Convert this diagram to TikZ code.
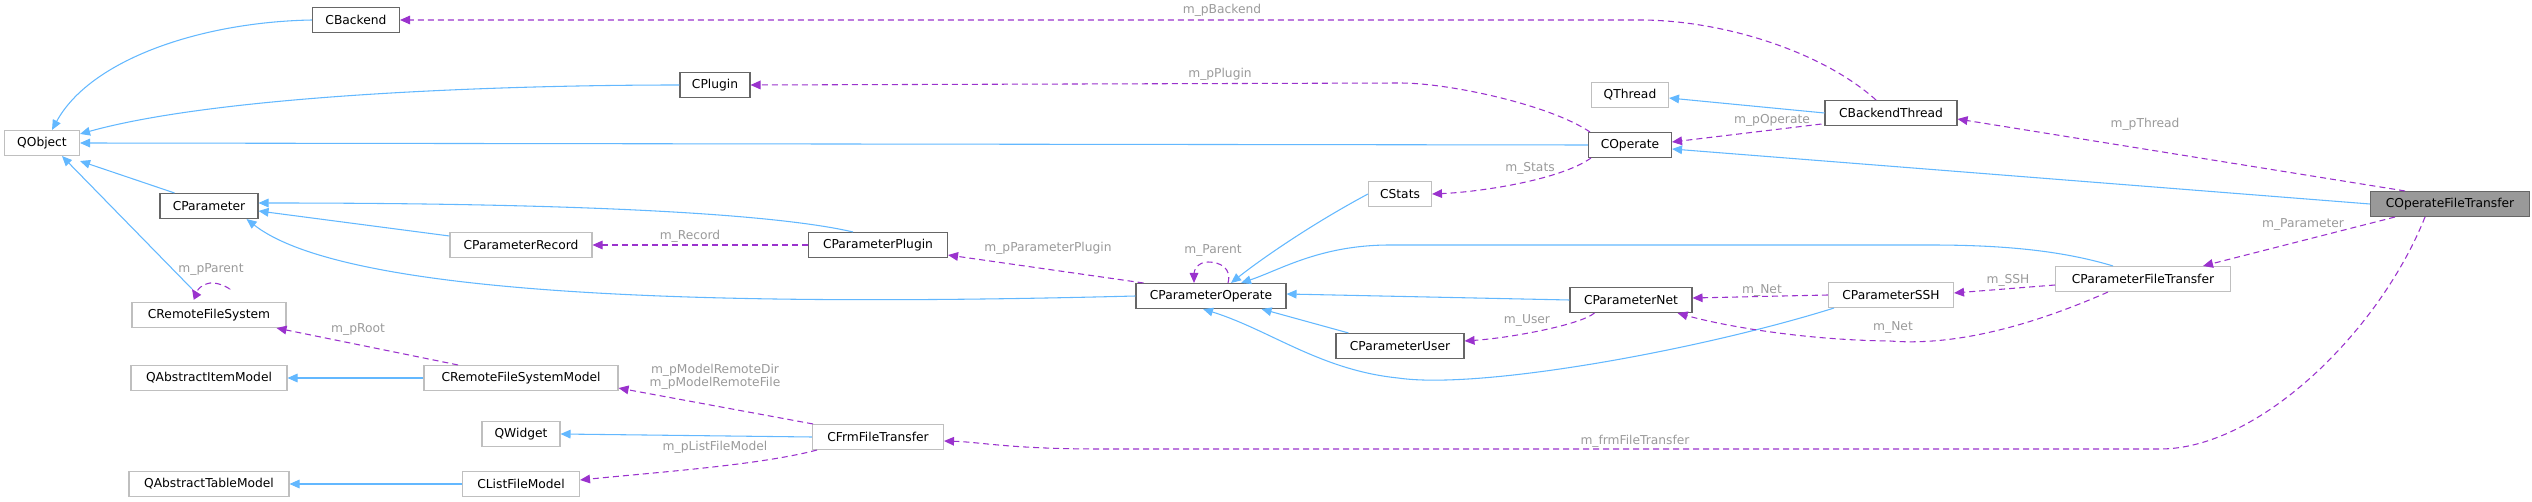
\documentclass[tikz,border=0pt]{standalone}
\usepackage{fontspec}
\setmainfont{DejaVu Sans}
\usetikzlibrary{arrows.meta,calc}
\definecolor{inhc}{HTML}{63B8FF}
\definecolor{memc}{HTML}{9A32CD}
\definecolor{labc}{HTML}{9A9A9A}
\begin{document}
\begin{tikzpicture}[x=0.75pt,y=-0.75pt,
  box/.style={draw=#1,fill=white,font=\fontsize{9.2}{10}\selectfont,inner sep=0pt,minimum height=18.75pt,line width=0.8pt},
  dk/.style={box=black!60},
  lt/.style={box=black!25},
  inh/.style={draw=inhc,line width=0.8pt,-{Triangle[length=7.5pt,width=6.5pt,fill=inhc]}},
  mem/.style={draw=memc,line width=0.8pt,dash pattern=on 4.5pt off 3pt,-{Triangle[length=7.5pt,width=6.5pt,fill=memc]}},
  lab/.style={text=labc,font=\fontsize{9.2}{10}\selectfont,inner sep=0pt,align=center}]
\useasboundingbox (0,0) rectangle (2532,502);
% nodes
\node[dk,minimum width=65.25pt] (cb) at (356,20) {CBackend};
\node[dk,minimum width=52.5pt] (cpl) at (715,85) {CPlugin};
\node[lt,minimum width=56.25pt] (qo) at (42,143) {QObject};
\node[dk,minimum width=73.5pt] (cp) at (209,206) {CParameter};
\node[lt,minimum width=115.5pt] (crfs) at (209,315) {CRemoteFileSystem};
\node[lt,minimum width=117pt] (qaim) at (209,378) {QAbstractItemModel};
\node[lt,minimum width=120pt] (qatm) at (209,484) {QAbstractTableModel};
\node[lt,minimum width=106.5pt] (cpr) at (521,245) {CParameterRecord};
\node[lt,minimum width=145.5pt] (crfsm) at (521,378) {CRemoteFileSystemModel};
\node[lt,minimum width=58.5pt] (qw) at (521,434) {QWidget};
\node[lt,minimum width=87.75pt] (clfm) at (521,484) {CListFileModel};
\node[dk,minimum width=104.25pt] (cpp) at (878,245) {CParameterPlugin};
\node[lt,minimum width=98.25pt] (cft) at (878,437) {CFrmFileTransfer};
\node[dk,minimum width=112.5pt] (cpo) at (1211,296) {CParameterOperate};
\node[lt,minimum width=47.25pt] (cs) at (1400,194) {CStats};
\node[dk,minimum width=62.25pt] (co) at (1630,145) {COperate};
\node[lt,minimum width=57.75pt] (qt) at (1630,95) {QThread};
\node[dk,minimum width=96pt] (cpu) at (1400,346) {CParameterUser};
\node[dk,minimum width=91.5pt] (cpn) at (1631,300) {CParameterNet};
\node[dk,minimum width=99pt] (cbt) at (1891,113) {CBackendThread};
\node[lt,minimum width=93.75pt] (cssh) at (1891,295) {CParameterSSH};
\node[lt,minimum width=131.25pt] (cpft) at (2143,279) {CParameterFileTransfer};
\node[box=black!60,fill=black!40,minimum width=119.25pt] (coft) at (2450,204) {COperateFileTransfer};
% inheritance
\draw[inh] (cb.west) .. controls (200,22) and (90,60) .. ($(qo.north)+(10,0)$);
\draw[inh] (cpl.west) .. controls (500,85) and (220,95) .. ($(qo.north east)+(0,4)$);
\draw[inh] (co.west) -- (qo.east);
\draw[inh] ($(cp.north west)+(15,0)$) -- ($(qo.south east)+(0,5)$);
\draw[inh] ($(crfs.north)+(-17,-13)$) -- ($(qo.south)+(20,0)$);
\draw[inh] ($(cpr.west)+(0,-9)$) -- ($(cp.east)+(0,5)$);
\draw[inh] ($(cpp.north)+(-25,0)$) .. controls (780,215) and (600,203) .. ($(cp.east)+(0,-3)$);
\draw[inh] (cpo.west) .. controls (750,306) and (350,300) .. ($(cp.south east)+(-12,0)$);
\draw[inh] (cs.west) .. controls (1310,225) and (1260,260) .. ($(cpo.north)+(20,0)$);
\draw[inh] ($(cpft.north)+(-30,0)$) .. controls (2060,250) and (2000,245) .. (1930,245) -- (1390,245) .. controls (1320,245) and (1280,270) .. ($(cpo.north)+(30,0)$);
\draw[inh] (cpn.west) -- ($(cpo.east)+(0,-2)$);
\draw[inh] ($(cpu.north west)+(13,0)$) -- ($(cpo.south east)+(-25,0)$);
\draw[inh] ($(cssh.south west)+(6,0)$) .. controls (1700,350) and (1480,390) .. (1398,378) .. controls (1320,370) and (1270,330) .. ($(cpo.south)+(-8,0)$);
\draw[inh] (cbt.west) -- ($(qt.east)+(0,3)$);
\draw[inh] (coft.west) -- ($(co.east)+(0,4)$);
\draw[inh] (crfsm.west) -- (qaim.east);
\draw[inh] (cft.west) -- (qw.east);
\draw[inh] (clfm.west) -- (qatm.east);
% members
\draw[mem] ($(cbt.north)+(-15,0)$) .. controls (1820,50) and (1720,20) .. (1640,20) -- (cb.east);
\node[lab] (l1) at (1222,10) {m\_pBackend};
\draw[mem] ($(co.north west)+(2,0)$) .. controls (1550,105) and (1450,83) .. (1400,83) -- (cpl.east);
\node[lab] (l2) at (1220,74) {m\_pPlugin};
\draw[mem] ($(cbt.south west)+(-3,-2)$) -- ($(co.east)+(0,-3)$);
\node[lab] (l3) at (1772,120) {m\_pOperate};
\draw[mem] ($(coft.north)+(-45,0)$) -- ($(cbt.east)+(0,6)$);
\node[lab] (l4) at (2145,124) {m\_pThread};
\draw[mem] ($(co.south west)+(3,0)$) .. controls (1560,180) and (1480,192) .. (cs.east);
\node[lab] (l5) at (1530,168) {m\_Stats};
\draw[mem] (cpp.west) -- (cpr.east);
\node[lab] (l6) at (690,236) {m\_Record};
\draw[mem] ($(cpo.north west)+(8,0)$) -- ($(cpp.south east)+(0,-3)$);
\node[lab] (l7) at (1048,248) {m\_pParameterPlugin};
\draw[mem] ($(cpo.north)+(17,0)$) .. controls (1232,268) and (1220,262) .. (1208,262) .. controls (1198,262) and (1194,270) .. ($(cpo.north)+(-17,0)$);
\node[lab] (l8) at (1213,250) {m\_Parent};
\draw[mem] ($(crfs.north)+(20,-13)$) .. controls (232,290) and (220,282) .. (210,283) .. controls (200,285) and (194,292) .. ($(crfs.north)+(-17,-13)$);
\node[lab] (l9) at (211,269) {m\_pParent};
\draw[mem] ($(crfsm.north)+(-63,0)$) -- ($(crfs.south east)+(-10,0)$);
\node[lab] (l10) at (358,329) {m\_pRoot};
\draw[mem] ($(cft.north west)+(1,0)$) -- ($(crfsm.south east)+(0,-3)$);
\node[lab] (l11) at (715,377) {m\_pModelRemoteDir\\m\_pModelRemoteFile};
\draw[mem] ($(cft.south west)+(5,0)$) .. controls (760,465) and (660,472) .. ($(clfm.east)+(0,-4)$);
\node[lab] (l12) at (715,447) {m\_pListFileModel};
\draw[mem] ($(coft.south)+(-25,0)$) .. controls (2380,330) and (2260,449) .. (2160,449) -- (1100,449) .. controls (1010,449) and (980,442) .. ($(cft.east)+(0,4)$);
\node[lab] (l13) at (1635,441) {m\_frmFileTransfer};
\draw[mem] ($(coft.south west)+(25,0)$) -- ($(cpft.north)+(60,0)$);
\node[lab] (l14) at (2303,224) {m\_Parameter};
\draw[mem] ($(cpft.west)+(0,6)$) -- ($(cssh.east)+(0,-2)$);
\node[lab] (l15) at (2008,280) {m\_SSH};
\draw[mem] (cssh.west) -- ($(cpn.east)+(0,-2)$);
\node[lab] (l16) at (1762,290) {m\_Net};
\draw[mem] ($(cpft.south)+(-35,0)$) .. controls (2010,335) and (1940,345) .. (1890,341) .. controls (1800,340) and (1720,325) .. ($(cpn.south east)+(-15,0)$);
\node[lab] (l17) at (1893,327) {m\_Net};
\draw[mem] ($(cpn.south west)+(25,0)$) .. controls (1580,325) and (1510,338) .. ($(cpu.east)+(0,-5)$);
\node[lab] (l18) at (1527,320) {m\_User};
\end{tikzpicture}
\end{document}
